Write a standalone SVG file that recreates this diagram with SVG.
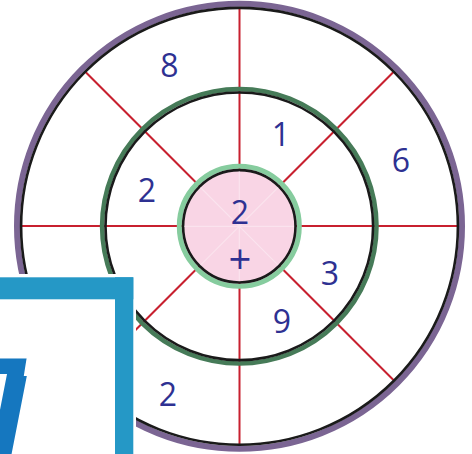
<svg xmlns="http://www.w3.org/2000/svg" width="472" height="454" viewBox="0 0 472 454">
<style>
.spoke{stroke:#c8202f;stroke-width:2;fill:none}
.num{font-family:"Open Sans","Liberation Sans",sans-serif;font-size:32px;fill:#2e3192;text-anchor:middle}
.ring{fill:none}
</style>
<defs>
<clipPath id="tclip">
<polygon points="-20,300 27.3,300 27.3,354 25,368.3 23.8,376 80,376 80,470 -20,470"/>
</clipPath>
</defs>
<rect width="472" height="454" fill="#ffffff"/>
<g id="connectors">
<line class="spoke" x1="239.5" y1="8" x2="239.5" y2="444"/>
<line class="spoke" x1="21" y1="226" x2="458" y2="226"/>
<line class="spoke" x1="85.3" y1="71.8" x2="393.7" y2="380.2"/>
<line class="spoke" x1="393.7" y1="71.8" x2="85.3" y2="380.2"/>
</g>
<g id="outer-ring">
<circle class="ring" cx="239.5" cy="226.3" r="222.5" stroke="#7b6593" stroke-width="6"/>
<circle class="ring" cx="239.5" cy="226.3" r="218.4" stroke="#1a1a1a" stroke-width="2.6"/>
</g>
<g id="middle-ring">
<circle class="ring" cx="239.3" cy="226.3" r="137.2" stroke="#467b58" stroke-width="4.6"/>
<circle class="ring" cx="239.3" cy="226.3" r="133.8" stroke="#1a1a1a" stroke-width="2.6"/>
</g>
<g id="center">
<circle cx="239.3" cy="226.3" r="60" fill="none" stroke="#86cc9e" stroke-width="5"/>
<circle cx="239.3" cy="226.3" r="56.2" fill="#f9d5e5" stroke="#1a1a1a" stroke-width="2.6"/>
<g stroke="#ffffff" stroke-width="1.2" opacity="0.35">
<line x1="239.3" y1="171" x2="239.3" y2="281"/>
<line x1="184" y1="226.3" x2="294" y2="226.3"/>
<line x1="200.5" y1="187.5" x2="278.1" y2="265.1"/>
<line x1="278.1" y1="187.5" x2="200.5" y2="265.1"/>
</g>
<text class="num" x="240" y="224">2</text>
<text class="num" x="240" y="273.5" style="font-size:40px">+</text>
</g>
<g id="n8"><text class="num" x="169.5" y="76.5">8</text></g>
<g id="n1"><text class="num" x="281" y="146">1</text></g>
<g id="n6"><text class="num" x="401" y="172">6</text></g>
<g id="n2a"><text class="num" x="147" y="202">2</text></g>
<g id="n3"><text class="num" x="330" y="284.5">3</text></g>
<g id="n9"><text class="num" x="282" y="333">9</text></g>
<g id="n2b"><text class="num" x="168" y="406">2</text></g>
<g id="frame">
<rect x="-10" y="274" width="146" height="190" fill="#ffffff"/>
<rect x="-10" y="277.3" width="143.3" height="22" fill="#2598c6"/>
<rect x="115" y="277.3" width="18.3" height="190" fill="#2598c6"/>
<text x="-34" y="454" clip-path="url(#tclip)" font-family="'Liberation Sans',Arial,sans-serif" font-weight="bold" font-style="italic" font-size="140" fill="#1577bf">T</text>
</g>
</svg>
